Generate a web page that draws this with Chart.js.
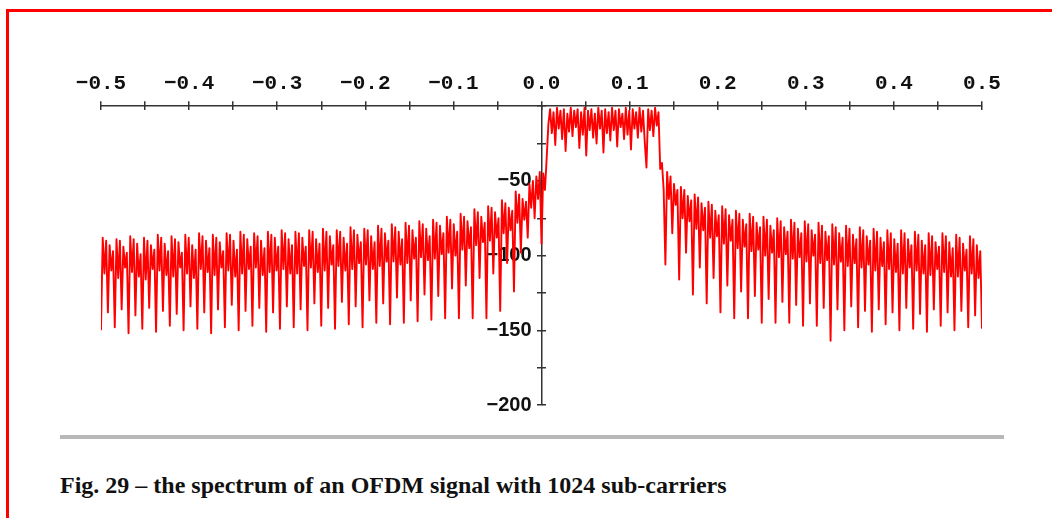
<!DOCTYPE html>
<html>
<head>
<meta charset="utf-8">
<script src="https://cdn.jsdelivr.net/npm/chart.js@4.4.1/dist/chart.umd.min.js"></script>
<style>
  html, body { margin: 0; padding: 0; background: #fff; }
  body { width: 1052px; height: 518px; position: relative; overflow: hidden; }
  #frame { position: absolute; left: 6px; top: 9px; right: 0; bottom: 0; border-top: 3px solid #f00; border-left: 3px solid #f00; }
  #plot { position: absolute; left: 0; top: 0; }
  #rule { position: absolute; left: 60px; top: 435px; width: 944px; height: 4px; background: #b8b8b8; }
  #caption { position: absolute; left: 60px; top: 473px; font: bold 24px/24px "Liberation Serif", serif; color: #111; white-space: nowrap; }
</style>
</head>
<body>
<div id="frame"></div>
<canvas id="plot" width="1052" height="420"></canvas>
<div id="rule"></div>
<div id="caption">Fig. 29 – the spectrum of an OFDM signal with 1024 sub-carriers</div>
<script>
// spectrum in dB, 513 bins from -0.5 to 0.5 (one row = 8 bins)
const spectrumDb = [
  -150, -88, -112, -90, -138, -93, -110, -97,
  -148, -89, -115, -90, -136, -94, -108, -98,
  -152, -87, -111, -89, -140, -92, -114, -99,
  -149, -88, -116, -90, -135, -93, -109, -96,
  -151, -86, -110, -88, -137, -92, -113, -97,
  -147, -87, -114, -89, -139, -91, -108, -98,
  -150, -86, -112, -88, -134, -93, -115, -96,
  -149, -85, -109, -87, -138, -90, -111, -95,
  -152, -86, -113, -88, -136, -91, -108, -97,
  -148, -85, -110, -86, -133, -90, -114, -96,
  -150, -84, -112, -86, -137, -89, -109, -94,
  -147, -85, -108, -87, -135, -90, -113, -95,
  -151, -84, -111, -86, -138, -88, -110, -94,
  -149, -83, -109, -85, -134, -89, -112, -93,
  -148, -84, -112, -85, -136, -88, -107, -94,
  -150, -83, -108, -84, -132, -89, -111, -92,
  -147, -82, -110, -84, -135, -87, -106, -93,
  -149, -83, -107, -84, -131, -88, -110, -92,
  -146, -81, -109, -83, -134, -86, -105, -91,
  -148, -82, -106, -83, -130, -87, -109, -91,
  -145, -80, -107, -82, -132, -85, -104, -90,
  -146, -79, -104, -81, -128, -84, -106, -89,
  -145, -78, -105, -80, -130, -83, -102, -88,
  -144, -77, -101, -79, -126, -82, -103, -87,
  -143, -76, -102, -78, -127, -80, -99, -85,
  -142, -74, -98, -76, -122, -79, -100, -84,
  -142, -72, -96, -74, -120, -77, -95, -81,
  -142, -69, -93, -71, -115, -74, -91, -78,
  -142, -67, -90, -68, -112, -71, -88, -75,
  -137, -63, -85, -65, -105, -68, -83, -70,
  -124, -57, -78, -59, -98, -62, -76, -64,
  -88, -52, -68, -50, -75, -47, -62, -44,
  // passband
  -92, -45, -56, -35, -12, -2, -18, -4,
  -26, -1, -15, -3, -22, -2, -30, -5,
  -17, -1, -20, -3, -14, -2, -28, -4,
  -19, -1, -33, -3, -16, -2, -21, -5,
  -25, -1, -15, -3, -31, -2, -18, -4,
  -23, -1, -16, -3, -27, -2, -14, -5,
  -22, -1, -19, -3, -29, -2, -15, -4,
  -21, -1, -17, -3, -24, -41, -2, -16,
  -3, -20, -1, -13, -4, -42, -38, -56,
  // upper side
  -106, -44, -62, -47, -85, -52, -66, -56,
  -116, -54, -75, -56, -98, -60, -77, -63,
  -126, -59, -82, -61, -108, -65, -83, -68,
  -132, -64, -88, -66, -115, -70, -87, -73,
  -138, -67, -92, -69, -120, -73, -90, -76,
  -142, -70, -95, -72, -124, -76, -94, -79,
  -142, -72, -97, -74, -127, -78, -96, -81,
  -145, -74, -100, -76, -129, -80, -98, -83,
  -145, -75, -101, -77, -131, -81, -99, -84,
  -145, -76, -102, -78, -133, -82, -101, -85,
  -147, -77, -104, -79, -132, -83, -100, -86,
  -147, -78, -105, -80, -135, -84, -103, -87,
  -157, -79, -106, -81, -136, -85, -104, -88,
  -150, -80, -107, -82, -134, -86, -105, -89,
  -148, -81, -108, -83, -137, -87, -106, -90,
  -151, -82, -110, -84, -136, -88, -107, -91,
  -146, -83, -109, -85, -138, -89, -111, -92,
  -150, -83, -112, -85, -135, -89, -108, -93,
  -149, -84, -110, -86, -139, -90, -112, -93,
  -151, -85, -113, -87, -136, -91, -109, -94,
  -147, -85, -111, -87, -138, -91, -114, -95,
  -150, -86, -114, -88, -137, -92, -110, -96,
  -148, -87, -112, -89, -140, -93, -115, -97,
  -149
];

const xTickLabels = [-0.5, -0.4, -0.3, -0.2, -0.1, 0, 0.1, 0.2, 0.3, 0.4, 0.5];
const yTickLabels = [-50, -100, -150, -200];

const nBins = spectrumDb.length - 1;
const points = spectrumDb.map((db, i) => ({ x: -0.5 + i / nBins, y: db }));

const hasLabel = (list, v) => list.some(l => Math.abs(l - v) < 1e-6);
const minus = s => s.replace('-', '\u2212');

const axisColor = '#333';

new Chart(document.getElementById('plot'), {
  type: 'line',
  data: {
    datasets: [{
      data: points,
      borderColor: '#ff0000',
      borderWidth: 1.9,
      borderJoinStyle: 'round',
      pointRadius: 0,
      tension: 0,
      fill: false
    }]
  },
  options: {
    responsive: false,
    animation: false,
    devicePixelRatio: 1,
    layout: { padding: { left: 101, right: 70, top: 66, bottom: 13 } },
    plugins: { legend: { display: false }, tooltip: { enabled: false } },
    scales: {
      x: {
        type: 'linear',
        position: 'top',
        min: -0.5,
        max: 0.5,
        grid: { drawOnChartArea: false, tickLength: 5, color: axisColor, lineWidth: 1.5 },
        border: { color: axisColor, width: 1.5 },
        ticks: {
          stepSize: 0.05,
          autoSkip: false,
          maxRotation: 0,
          padding: 5,
          color: '#111',
          font: { family: 'Liberation Mono', size: 21, weight: 'bold' },
          callback: v => hasLabel(xTickLabels, v) ? (Math.abs(v) < 1e-9 ? '0.0' : minus(v.toFixed(1))) : ''
        }
      },
      xBelow: {
        axis: 'x',
        type: 'linear',
        position: { y: 0 },
        min: -0.5,
        max: 0.5,
        grid: { drawOnChartArea: false, tickLength: 4, color: axisColor, lineWidth: 1.5 },
        border: { display: false },
        ticks: { stepSize: 0.05, autoSkip: false, display: false }
      },
      y: {
        type: 'linear',
        position: { x: 0 },
        min: -200,
        max: 0,
        grid: { drawOnChartArea: false, tickLength: 4, color: axisColor, lineWidth: 1.5 },
        border: { color: axisColor, width: 1.5 },
        ticks: {
          stepSize: 25,
          autoSkip: false,
          color: '#111',
          font: { family: 'Liberation Sans', size: 20, weight: 'bold' },
          callback: v => hasLabel(yTickLabels, v) ? minus(String(v)) + '\u2002' : ''
        }
      },
      yRight: {
        axis: 'y',
        type: 'linear',
        position: { x: 0 },
        min: -200,
        max: 0,
        grid: { drawOnChartArea: false, tickLength: -4, color: axisColor, lineWidth: 1.5 },
        border: { display: false },
        ticks: { stepSize: 25, autoSkip: false, display: false }
      }
    }
  }
});
</script>
</body>
</html>
